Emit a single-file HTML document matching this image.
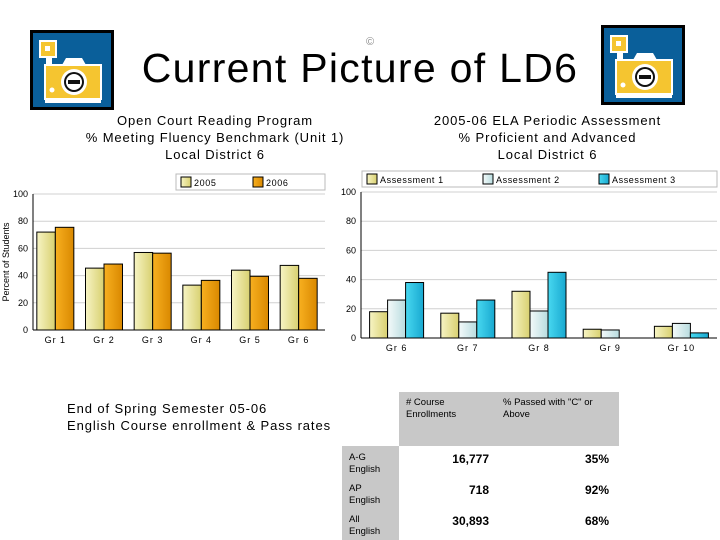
<!DOCTYPE html>
<html><head><meta charset="utf-8"><style>
body{margin:0;background:#fff;}
#root{position:relative;width:720px;height:540px;overflow:hidden;background:#fff;font-family:"Liberation Sans",sans-serif;}
.t{position:absolute;text-align:center;color:#000;}
</style></head><body>
<div id="root">
<svg width="720" height="540" style="position:absolute;left:0;top:0">
<defs>
<linearGradient id="gY" x1="0" x2="1"><stop offset="0" stop-color="#f7f4c4"/><stop offset="1" stop-color="#d8d070"/></linearGradient>
<linearGradient id="gO" x1="0" x2="1"><stop offset="0" stop-color="#f8b020"/><stop offset="1" stop-color="#d98800"/></linearGradient>
<linearGradient id="gL" x1="0" x2="1"><stop offset="0" stop-color="#f4fafa"/><stop offset="1" stop-color="#b8dcdf"/></linearGradient>
<linearGradient id="gC" x1="0" x2="1"><stop offset="0" stop-color="#48d8f0"/><stop offset="1" stop-color="#18a8d0"/></linearGradient>
<g id="cam">
<rect x="0" y="0" width="84" height="80" fill="#000"/>
<rect x="3" y="3" width="78" height="74" fill="#0a5f9a"/>
<rect x="10" y="11" width="16" height="16" fill="#f5c530" stroke="#fff" stroke-width="2"/>
<rect x="15" y="16" width="5" height="5" fill="#fff"/>
<rect x="16" y="27" width="6" height="8" fill="#fff"/>
<rect x="15" y="35" width="56" height="34" fill="#f5c530" stroke="#fff" stroke-width="2"/>
<path d="M32 35 L36 28 L52 28 L56 35 Z" fill="#fff"/>
<circle cx="44" cy="52" r="13" fill="#fff"/><circle cx="44" cy="52" r="10" fill="#111"/>
<circle cx="44" cy="52" r="8" fill="#fff"/><rect x="38" y="50" width="12" height="4" fill="#111"/>
<circle cx="22" cy="60" r="2.5" fill="#fff"/>
<rect x="15" y="70" width="56" height="3" fill="#fff"/>
</g>
</defs>
<use href="#cam" x="30" y="30"/>
<use href="#cam" x="601" y="25"/>
<text x="370" y="45" font-size="11" fill="#888" text-anchor="middle">©</text>
<g id="left-chart"></g>
<g id="right-chart"></g>
<rect x="399" y="392" width="220" height="54" fill="#c8c8c8"/>
<rect x="342" y="446" width="57" height="94" fill="#c8c8c8"/>
</svg>
<div class="t" style="left:100px;top:44px;width:520px;font-size:41px;line-height:48px;letter-spacing:1.3px;">Current Picture of LD6</div>
<div class="t" style="left:50px;top:112px;width:330px;font-size:13px;line-height:17px;letter-spacing:0.9px;">Open Court Reading Program<br>% Meeting Fluency Benchmark (Unit 1)<br>Local District 6</div>
<div class="t" style="left:390px;top:112px;width:315px;font-size:13px;line-height:17px;letter-spacing:0.9px;">2005-06 ELA Periodic Assessment<br>% Proficient and Advanced<br>Local District 6</div>
<div class="t" style="left:67px;top:400px;text-align:left;font-size:13px;line-height:17px;letter-spacing:0.9px;">End of Spring Semester 05-06<br>English Course enrollment &amp; Pass rates</div>
<div class="t" style="left:406px;top:397px;text-align:left;font-size:9.5px;line-height:12px;"># Course<br>Enrollments</div>
<div class="t" style="left:503px;top:397px;text-align:left;font-size:9.5px;line-height:12px;">% Passed with "C" or<br>Above</div>
<div id="rows"></div>
</div>
<script>
const NS="http://www.w3.org/2000/svg";
function mk(p,tag,a,txt){const e=document.createElementNS(NS,tag);for(const k in a)e.setAttribute(k,a[k]);if(txt!==undefined)e.textContent=txt;p.appendChild(e);return e;}

// Left chart data
const leftCats=["Gr 1","Gr 2","Gr 3","Gr 4","Gr 5","Gr 6"];
const left2005=[72,45.5,57,33,44,47.5];
const left2006=[75.5,48.5,56.5,36.5,39.5,38];
const leftTicks=[0,20,40,60,80,100];
const leftSeriesNames=["2005","2006"];
// Right chart data
const rightCats=["Gr 6","Gr 7","Gr 8","Gr 9","Gr 10"];
const rightA1=[18,17,32,6,8];
const rightA2=[26,11,18.5,5.5,10];
const rightA3=[38,26,45,0,3.5];
const rightTicks=[0,20,40,60,80,100];
const rightSeriesNames=["Assessment 1","Assessment 2","Assessment 3"];
// Table data
const tableLabels=[["A-G","English"],["AP","English"],["All","English"]];
const tableEnroll=["16,777","718","30,893"];
const tablePass=["35%","92%","68%"];

function chart(g,o){
  const y=v=>o.y0-(v/100)*(o.y0-o.y100);
  const bw=(o.x1-o.x0)/o.cats.length;
  o.ticks.forEach(t=>{
    const l=mk(g,"line",{x1:o.x0,x2:o.x1,y1:y(t),y2:y(t),stroke:"#d0d0d0"});
    
    
    const tx=mk(g,"text",{x:o.x0-5,y:y(t)+3,"font-size":9,"text-anchor":"end",fill:"#000"},String(t));
    
    
  });
  o.cats.forEach((c,i)=>{
    const cx=o.x0+bw*(i+0.5);
    const n=o.series.length, start=cx-n*o.barW/2+o.shift;
    o.series.forEach((s,j)=>{
      const v=s[i]; if(v<=0)return;
      const r=mk(g,"rect",{x:start+j*o.barW,y:y(v),width:o.barW,height:y(0)-y(v),fill:o.fills[j],stroke:"#000","stroke-width":1});
      
      
    });
    const tx=mk(g,"text",{x:cx+o.shift,y:o.y0+13,"font-size":9,"text-anchor":"middle","letter-spacing":"1"},c);
    
    
  });
  mk(g,"line",{x1:o.x0,x2:o.x0,y1:o.y100,y2:o.y0,stroke:"#000"});
  mk(g,"line",{x1:o.x0,x2:o.x1,y1:o.y0,y2:o.y0,stroke:"#000"});
  const lg=mk(g,"rect",{x:o.lx,y:o.ly,width:o.lw,height:16,fill:"#fff",stroke:"#bbb"});
  
  
  o.names.forEach((nm,j)=>{
    const lx=o.lx+5+j*o.lstep;
    const sw=mk(g,"rect",{x:lx,y:o.ly+3,width:10,height:10,fill:o.fills[j],stroke:"#000"});
    
    
    const t=mk(g,"text",{x:lx+13,y:o.ly+12,"font-size":9,"letter-spacing":"0.6"},nm);
    
    
  });
}
chart(document.getElementById("left-chart"),{x0:33,x1:325,y0:330,y100:194,cats:leftCats,series:[left2005,left2006],ticks:leftTicks,fills:["url(#gY)","url(#gO)"],barW:18.5,shift:-2,names:leftSeriesNames,lx:176,ly:174,lw:149,lstep:72});
chart(document.getElementById("right-chart"),{x0:361,x1:717,y0:338,y100:192,cats:rightCats,series:[rightA1,rightA2,rightA3],ticks:rightTicks,fills:["url(#gY)","url(#gL)","url(#gC)"],barW:18,shift:0,names:rightSeriesNames,lx:362,ly:171,lw:355,lstep:116});
const yt=mk(document.getElementById("left-chart"),"text",{x:0,y:0,"font-size":9,"text-anchor":"middle",transform:"translate(9,262) rotate(-90)"},"Percent of Students");



const rows=document.getElementById("rows");
tableLabels.forEach((lb,i)=>{
  const top=452+i*31;
  const a=document.createElement("div");a.className="t";a.style.cssText=`left:349px;top:${top}px;text-align:left;font-size:9.5px;line-height:12px;`;a.innerHTML=lb[0]+"<br>"+lb[1];
  
  
  rows.appendChild(a);
  const b=document.createElement("div");b.className="t";b.style.cssText=`left:400px;width:89px;top:${top}px;text-align:right;font-size:12px;font-weight:bold;`;b.textContent=tableEnroll[i];
  
  
  rows.appendChild(b);
  const c=document.createElement("div");c.className="t";c.style.cssText=`left:540px;width:69px;top:${top}px;text-align:right;font-size:12px;font-weight:bold;`;c.textContent=tablePass[i];
  
  
  rows.appendChild(c);
});
</script>
</body></html>
